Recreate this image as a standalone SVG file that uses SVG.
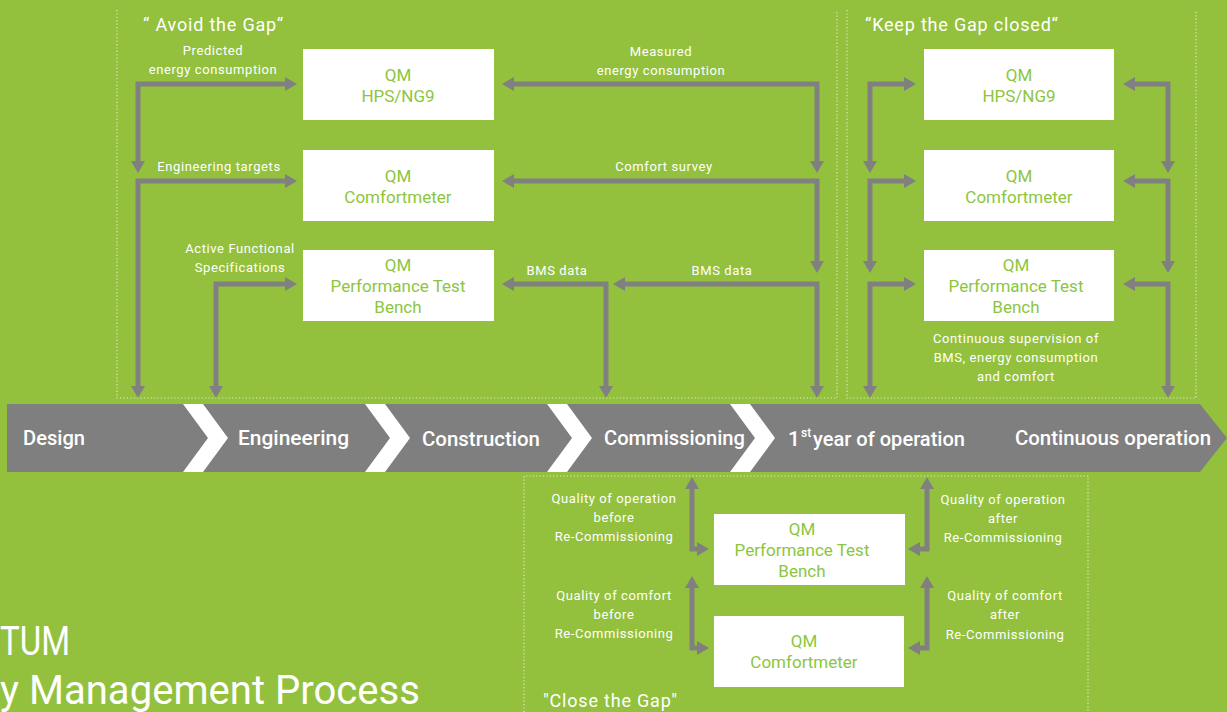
<svg xmlns="http://www.w3.org/2000/svg" width="1227" height="712" viewBox="0 0 1227 712">
  <defs>
    <style>
      .bg { fill: #93c13d; }
      .zone { fill: none; stroke: #dcebbf; stroke-width: 1.2; stroke-dasharray: 1.2 2.2; }
      .box { fill: #ffffff; }
      .bt { font-family: Roboto, "Liberation Sans", sans-serif; font-size: 17px; font-weight: 400; fill: #8cc63e; text-anchor: middle; }
      .lbl { font-family: Roboto, "Liberation Sans", sans-serif; font-size: 13px; fill: #ffffff; text-anchor: middle; letter-spacing: 0.6px; }
      .head { font-family: Roboto, "Liberation Sans", sans-serif; font-size: 18px; fill: #ffffff; letter-spacing: 0.8px; }
      .stage { font-family: Roboto, "Liberation Sans", sans-serif; font-size: 21px; font-weight: 500; fill: #ffffff; }
      .sup { font-family: Roboto, "Liberation Sans", sans-serif; font-size: 12px; font-weight: 500; fill: #ffffff; }
      .title { font-family: Roboto, "Liberation Sans", sans-serif; font-size: 40px; fill: #ffffff; }
      .conn { fill: none; stroke: #808080; stroke-width: 5; stroke-linejoin: miter; marker-start: url(#ah); marker-end: url(#ah); }
      .chev { fill: #ffffff; }
    </style>
    <marker id="ah" viewBox="0 0 12 14" markerWidth="12" markerHeight="14" refX="6" refY="7" orient="auto-start-reverse" markerUnits="userSpaceOnUse">
      <path d="M0,0 L12,7 L0,14 z" fill="#808080"/>
    </marker>
  </defs>

  <rect class="bg" x="0" y="0" width="1227" height="712"/>

  <!-- phase zones -->
  <g id="zones">
    <path class="zone" d="M117,10 V398 H837 V10"/>
    <path class="zone" d="M847,10 V398 H1196 V10"/>
    <path class="zone" d="M524,712 V476 H1088 V712"/>
  </g>

  <!-- zone headings -->
  <g id="headings">
    <text class="head" x="143" y="31">“ Avoid the Gap“</text>
    <text class="head" x="865" y="31">“Keep the Gap closed“</text>
    <text class="head" x="543" y="707">"Close the Gap"</text>
  </g>

  <!-- project phase banner -->
  <g id="banner">
    <polygon points="7,404 1200,404 1227,438 1200,472 7,472" fill="#7f7f7f"/>
    <polygon class="chev" points="183,404 203,404 228,438 203,472 183,472 208,438"/>
    <polygon class="chev" points="365,404 385,404 410,438 385,472 365,472 390,438"/>
    <polygon class="chev" points="547,404 567,404 592,438 567,472 547,472 572,438"/>
    <polygon class="chev" points="730,404 750,404 775,438 750,472 730,472 755,438"/>
    <text class="stage" x="23" y="445" textLength="62" lengthAdjust="spacingAndGlyphs">Design</text>
    <text class="stage" x="238" y="445" textLength="111" lengthAdjust="spacingAndGlyphs">Engineering</text>
    <text class="stage" x="422" y="446" textLength="118" lengthAdjust="spacingAndGlyphs">Construction</text>
    <text class="stage" x="604" y="445" textLength="141" lengthAdjust="spacingAndGlyphs">Commissioning</text>
    <text class="stage" x="788" y="446">1</text>
    <text class="sup" x="801" y="437">st</text>
    <text class="stage" x="813" y="446" textLength="152" lengthAdjust="spacingAndGlyphs">year of operation</text>
    <text class="stage" x="1015" y="445" textLength="196" lengthAdjust="spacingAndGlyphs">Continuous operation</text>
  </g>

  <!-- connectors -->
  <g id="connectors">
    <path class="conn" d="M138,167 V84 H291"/>
    <path class="conn" d="M138,392 V181 H291"/>
    <path class="conn" d="M216,392 V284 H291"/>
    <path class="conn" d="M508,84 H817 V167"/>
    <path class="conn" d="M508,181 H817 V267"/>
    <path class="conn" d="M619,284 H817 V392"/>
    <path class="conn" d="M508,284 H606 V392"/>
    <path class="conn" d="M870,167 V84 H910"/>
    <path class="conn" d="M870,267 V181 H910"/>
    <path class="conn" d="M870,392 V284 H910"/>
    <path class="conn" d="M1129,84 H1168 V167"/>
    <path class="conn" d="M1129,181 H1168 V267"/>
    <path class="conn" d="M1129,284 H1168 V392"/>
    <path class="conn" d="M692,483 V549 H703"/>
    <path class="conn" d="M692,582 V648 H703"/>
    <path class="conn" d="M927,483 V549 H914"/>
    <path class="conn" d="M927,582 V648 H914"/>
  </g>

  <!-- connector labels -->
  <g id="labels">
    <text class="lbl" x="213" y="55">Predicted</text>
    <text class="lbl" x="213" y="74">energy consumption</text>
    <text class="lbl" x="219" y="171">Engineering targets</text>
    <text class="lbl" x="240" y="253">Active Functional</text>
    <text class="lbl" x="240" y="272">Specifications</text>
    <text class="lbl" x="661" y="56">Measured</text>
    <text class="lbl" x="661" y="75">energy consumption</text>
    <text class="lbl" x="664" y="171">Comfort survey</text>
    <text class="lbl" x="557" y="275">BMS data</text>
    <text class="lbl" x="722" y="275">BMS data</text>
    <text class="lbl" x="1016" y="343">Continuous supervision of</text>
    <text class="lbl" x="1016" y="362">BMS, energy consumption</text>
    <text class="lbl" x="1016" y="381">and comfort</text>
    <text class="lbl" x="614" y="503">Quality of operation</text>
    <text class="lbl" x="614" y="522">before</text>
    <text class="lbl" x="614" y="541">Re-Commissioning</text>
    <text class="lbl" x="614" y="600">Quality of comfort</text>
    <text class="lbl" x="614" y="619">before</text>
    <text class="lbl" x="614" y="638">Re-Commissioning</text>
    <text class="lbl" x="1003" y="504">Quality of operation</text>
    <text class="lbl" x="1003" y="523">after</text>
    <text class="lbl" x="1003" y="542">Re-Commissioning</text>
    <text class="lbl" x="1005" y="600">Quality of comfort</text>
    <text class="lbl" x="1005" y="619">after</text>
    <text class="lbl" x="1005" y="639">Re-Commissioning</text>
  </g>

  <!-- design / engineering tools -->
  <g id="avoid-hps">
    <rect class="box" x="303" y="49" width="191" height="71"/>
    <text class="bt" x="398" y="81">QM</text>
    <text class="bt" x="398" y="102">HPS/NG9</text>
  </g>
  <g id="avoid-comfort">
    <rect class="box" x="303" y="150" width="191" height="71"/>
    <text class="bt" x="398" y="182">QM</text>
    <text class="bt" x="398" y="203">Comfortmeter</text>
  </g>
  <g id="avoid-ptb">
    <rect class="box" x="303" y="250" width="191" height="71"/>
    <text class="bt" x="398" y="271">QM</text>
    <text class="bt" x="398" y="292">Performance Test</text>
    <text class="bt" x="398" y="313">Bench</text>
  </g>

  <!-- continuous operation tools -->
  <g id="keep-hps">
    <rect class="box" x="924" y="49" width="190" height="71"/>
    <text class="bt" x="1019" y="81">QM</text>
    <text class="bt" x="1019" y="102">HPS/NG9</text>
  </g>
  <g id="keep-comfort">
    <rect class="box" x="924" y="150" width="190" height="71"/>
    <text class="bt" x="1019" y="182">QM</text>
    <text class="bt" x="1019" y="203">Comfortmeter</text>
  </g>
  <g id="keep-ptb">
    <rect class="box" x="924" y="250" width="190" height="71"/>
    <text class="bt" x="1016" y="271">QM</text>
    <text class="bt" x="1016" y="292">Performance Test</text>
    <text class="bt" x="1016" y="313">Bench</text>
  </g>

  <!-- re-commissioning tools -->
  <g id="close-ptb">
    <rect class="box" x="714" y="514" width="191" height="71"/>
    <text class="bt" x="802" y="535">QM</text>
    <text class="bt" x="802" y="556">Performance Test</text>
    <text class="bt" x="802" y="577">Bench</text>
  </g>
  <g id="close-comfort">
    <rect class="box" x="714" y="616" width="190" height="71"/>
    <text class="bt" x="804" y="647">QM</text>
    <text class="bt" x="804" y="668">Comfortmeter</text>
  </g>

  <!-- title -->
  <g id="title">
    <text class="title" x="0" y="655" textLength="70" lengthAdjust="spacingAndGlyphs">TUM</text>
    <text class="title" x="0" y="704" textLength="420" lengthAdjust="spacingAndGlyphs">y Management Process</text>
  </g>
</svg>
